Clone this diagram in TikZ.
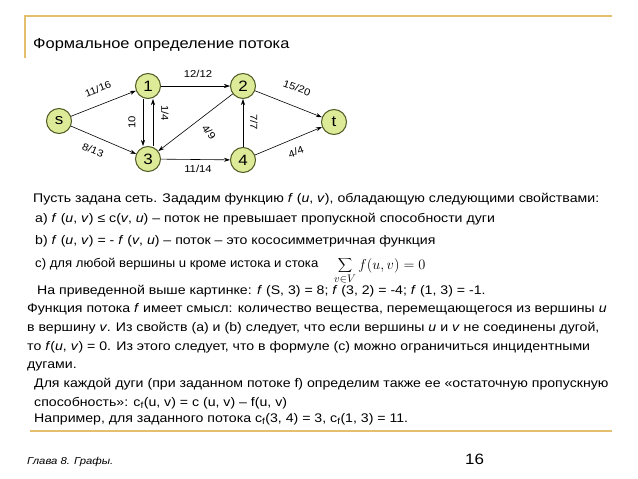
\documentclass[tikz,border=0pt]{standalone}
\usepackage{fontspec}
\setmainfont{Liberation Sans}[FakeStretch=1.13]
\usepackage{tikz}
\usetikzlibrary{arrows.meta}
\definecolor{slgold}{HTML}{E3BF6E}
\definecolor{slnode}{HTML}{DDEB98}
\definecolor{sledge}{HTML}{4D5A22}

\begin{document}
\begin{tikzpicture}[x=1pt, y=-1pt, font=\fontsize{12.5}{14}\selectfont,
      vx/.style={circle, draw=sledge, fill=slnode, line width=1pt, minimum size=25pt, inner sep=0pt, font=\fontsize{15}{16}\selectfont},
      lbl/.style={font=\fontsize{10}{11}\selectfont, inner sep=0pt},
      ln/.style={anchor=base west, inner sep=0pt},
      arc/.style={-{Stealth[length=6pt, width=4pt]}, line width=0.6pt}]

      \useasboundingbox (0,0) rectangle (638,479);
      \fill[white] (0,0) rectangle (638,479);
      \draw[slgold, line width=1.4pt] (25,58) -- (25,16) -- (612,16);
      \draw[slgold, line width=1.4pt] (30,431) -- (612,431);

      \node[ln, font=\fontsize{14.5}{16}\selectfont] (title) at (33,48) {Формальное определение потока};

      \node[vx] (s) at (59,121) {s};
      \node[vx] (n1) at (148,86) {1};
      \node[vx] (n2) at (243,86) {2};
      \node[vx] (n3) at (148,159) {3};
      \node[vx] (n4) at (243,160) {4};
      \node[vx] (t) at (334,122) {t};

      \draw[arc] (s)--(n1); \draw[arc] (s)--(n3); \draw[arc] (n1)--(n2); \draw[arc] (n2)--(t);
      \draw[arc] ([xshift=-5pt]n1.south)--([xshift=-5pt]n3.north); \draw[arc] ([xshift=5pt]n3.north)--([xshift=5pt]n1.south);
      \draw[arc] (n2)--(n3); \draw[arc] (n3)--(n4); \draw[arc] (n4)--(n2); \draw[arc] (n4)--(t);

      \node[lbl, rotate=22] (l1) at (98,89) {11/16};
      \node[lbl, rotate=-22] (l2) at (93,150) {8/13};
      \node[lbl] (l3) at (198,74) {12/12};
      \node[lbl, rotate=-20] (l4) at (297,88) {15/20};
      \node[lbl, rotate=90] (l5) at (132,122) {10};
      \node[lbl, rotate=-90] (l6) at (165,113) {1/4};
      \node[lbl, rotate=-52] (l7) at (209,132) {4/9};
      \node[lbl, rotate=-90] (l8) at (254,122) {7/7};
      \node[lbl] (l9) at (198,169) {11/14};
      \node[lbl, rotate=20] (l10) at (296,152) {4/4};

      \node[ln] (p0) at (33,202) {Пусть задана сеть. Зададим функцию \textit{f} (\textit{u}, \textit{v}), обладающую следующими свойствами:};
      \node[ln] (pa) at (35,222) {a) \textit{f} (\textit{u}, \textit{v}) ≤ c(\textit{v}, \textit{u}) – поток не превышает пропускной способности дуги};
      \node[ln] (pb) at (35,244) {b) \textit{f} (\textit{u}, \textit{v}) = - \textit{f} (\textit{v}, \textit{u}) – поток – это кососимметричная функция};
      \node[ln, xscale=0.93, transform shape] (pc) at (35,267) {c) для любой вершины u кроме истока и стока};
      \node[ln, font=\fontsize{15}{16}\selectfont] (sum) at (334,269) {$\displaystyle\sum_{v\in V} f(u,v)=0$};
      \node[ln] (q0) at (37,294) {На приведенной выше картинке: \textit{f} (S, 3) = 8; \textit{f} (3, 2) = -4; \textit{f} (1, 3) = -1.};
      \node[ln] (q1) at (27,312) {Функция потока \textit{f} имеет смысл: количество вещества, перемещающегося из вершины \textit{u}};
      \node[ln] (q2) at (27,331) {в вершину \textit{v}. Из свойств (a) и (b) следует, что если вершины \textit{u} и \textit{v} не соединены дугой,};
      \node[ln] (q3) at (27,350) {то \textit{f}(\textit{u}, \textit{v}) = 0. Из этого следует, что в формуле (c) можно ограничиться инцидентными};
      \node[ln] (q4) at (27,368) {дугами.};
      \node[ln] (r0) at (34,387) {Для каждой дуги (при заданном потоке f) определим также ее «остаточную пропускную};
      \node[ln] (r1) at (34,406) {способность»: c\textsubscript{f}(u, v) = c (u, v) – f(u, v)};
      \node[ln] (r2) at (34,422) {Например, для заданного потока c\textsubscript{f}(3, 4) = 3, c\textsubscript{f}(1, 3) = 11.};

      \node[ln, font=\fontsize{10}{11}\selectfont\itshape] (chap) at (27,464) {Глава 8. Графы.};
      \node[ln, font=\fontsize{15}{16}\selectfont] (page) at (465,464) {16};
    \end{tikzpicture}
\end{document}
